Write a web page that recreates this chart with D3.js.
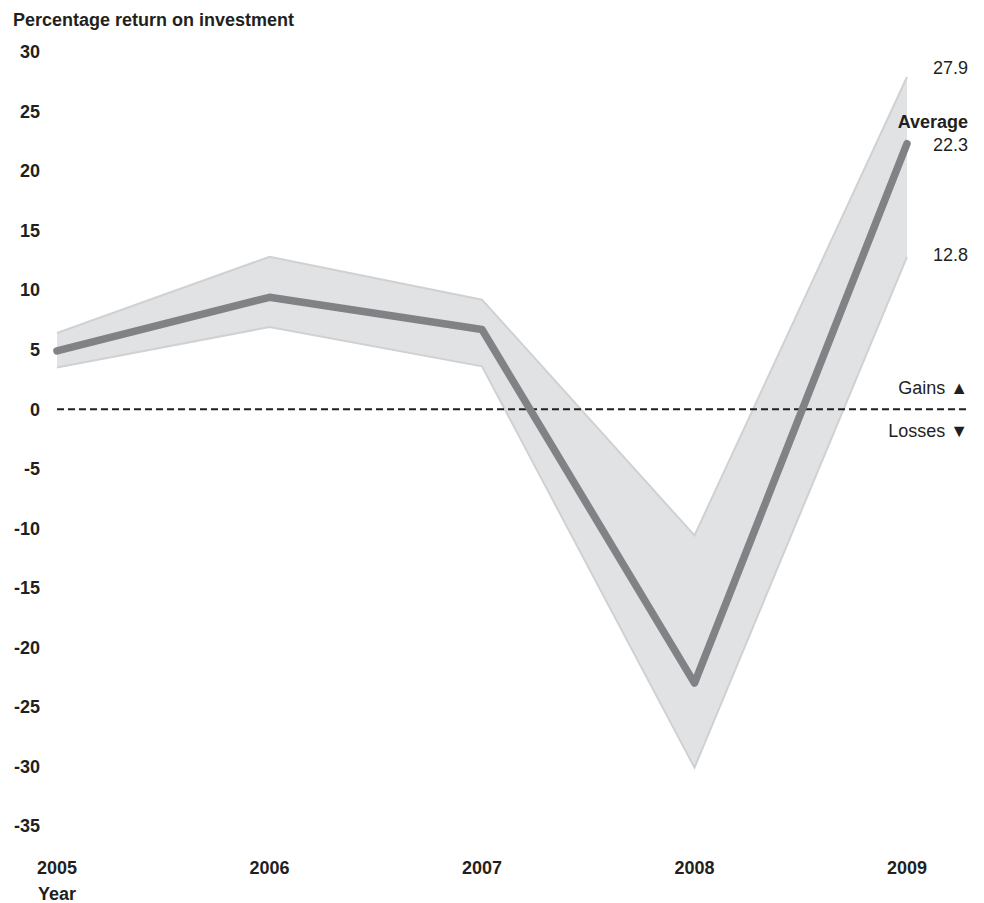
<!DOCTYPE html>
<meta charset="utf-8">
<head>
<style>
body { margin: 0; background: #fff; }
text { font-family: "Liberation Sans", Arial, Helvetica, sans-serif; }
.tick-label { font-size: 18px; font-weight: bold; fill: #231f20; }
.end-label { font-size: 18px; fill: #231f20; }
</style>
</head>
<body>
<script src="https://d3js.org/d3.v7.min.js"></script>
<svg id="chart" width="984" height="903"></svg>
<script>

var years = [2005, 2006, 2007, 2008, 2009];
var average = [4.9, 9.4, 6.7, -23.0, 22.3];
var upper = [6.4, 12.8, 9.2, -10.6, 27.9];
var lower = [3.5, 6.9, 3.6, -30.1, 12.8];
var yTicks = [30, 25, 20, 15, 10, 5, 0, -5, -10, -15, -20, -25, -30, -35];

var svg = d3.select("#chart");

var x = d3.scaleLinear()
    .domain([2005, 2009])
    .range([57, 907]);

var y = d3.scaleLinear()
    .domain([-35, 30])
    .range([826, 52]);

var rows = years.map(function(d, i) {
  return {year: d, avg: average[i], hi: upper[i], lo: lower[i]};
});

// title
svg.append("text")
    .attr("x", 13)
    .attr("y", 26)
    .attr("class", "tick-label")
    .text("Percentage return on investment");

// y tick labels (no axis line)
svg.append("g")
  .selectAll("text")
  .data(yTicks)
  .enter().append("text")
    .attr("class", "tick-label")
    .attr("x", 40)
    .attr("y", function(d) { return y(d); })
    .attr("dy", "0.35em")
    .attr("text-anchor", "end")
    .text(function(d) { return d; });

// x tick labels
svg.append("g")
  .selectAll("text")
  .data(years)
  .enter().append("text")
    .attr("class", "tick-label")
    .attr("x", function(d) { return x(d); })
    .attr("y", 874)
    .attr("text-anchor", "middle")
    .text(function(d) { return d; });

svg.append("text")
    .attr("class", "tick-label")
    .attr("x", 57)
    .attr("y", 900)
    .attr("text-anchor", "middle")
    .text("Year");

// range band
var area = d3.area()
    .x(function(d) { return x(d.year); })
    .y0(function(d) { return y(d.lo); })
    .y1(function(d) { return y(d.hi); });

svg.append("path")
    .datum(rows)
    .attr("d", area)
    .attr("fill", "#e1e2e4");

var edge = function(key) {
  return d3.line()
    .x(function(d) { return x(d.year); })
    .y(function(d) { return y(d[key]); });
};

["hi", "lo"].forEach(function(k) {
  svg.append("path")
      .datum(rows)
      .attr("d", edge(k))
      .attr("fill", "none")
      .attr("stroke", "#d0d1d3")
      .attr("stroke-width", 2);
});

// zero line
svg.append("line")
    .attr("x1", x(2005))
    .attr("x2", 968)
    .attr("y1", y(0))
    .attr("y2", y(0))
    .attr("stroke", "#231f20")
    .attr("stroke-width", 2)
    .attr("stroke-dasharray", "7,4");

// average line
svg.append("path")
    .datum(rows)
    .attr("d", edge("avg"))
    .attr("fill", "none")
    .attr("stroke", "#808285")
    .attr("stroke-width", 7.5)
    .attr("stroke-linecap", "round")
    .attr("stroke-linejoin", "round");

// end labels
var last = rows[rows.length - 1];
var labelX = 968;

svg.append("text").attr("class", "end-label")
    .attr("x", labelX).attr("y", y(last.hi) - 9)
    .attr("dy", "0.35em").attr("text-anchor", "end")
    .text(last.hi.toFixed(1));

svg.append("text").attr("class", "tick-label")
    .attr("x", labelX).attr("y", y(last.avg) - 22)
    .attr("dy", "0.35em").attr("text-anchor", "end")
    .text("Average");

svg.append("text").attr("class", "end-label")
    .attr("x", labelX).attr("y", y(last.avg) + 1)
    .attr("dy", "0.35em").attr("text-anchor", "end")
    .text(last.avg.toFixed(1));

svg.append("text").attr("class", "end-label")
    .attr("x", labelX).attr("y", y(last.lo) - 2)
    .attr("dy", "0.35em").attr("text-anchor", "end")
    .text(last.lo.toFixed(1));

svg.append("text").attr("class", "end-label")
    .attr("x", labelX).attr("y", y(0) - 22)
    .attr("dy", "0.35em").attr("text-anchor", "end")
    .text("Gains \u25B2");

svg.append("text").attr("class", "end-label")
    .attr("x", labelX).attr("y", y(0) + 21)
    .attr("dy", "0.35em").attr("text-anchor", "end")
    .text("Losses \u25BC");

</script>
</body>
</html>
